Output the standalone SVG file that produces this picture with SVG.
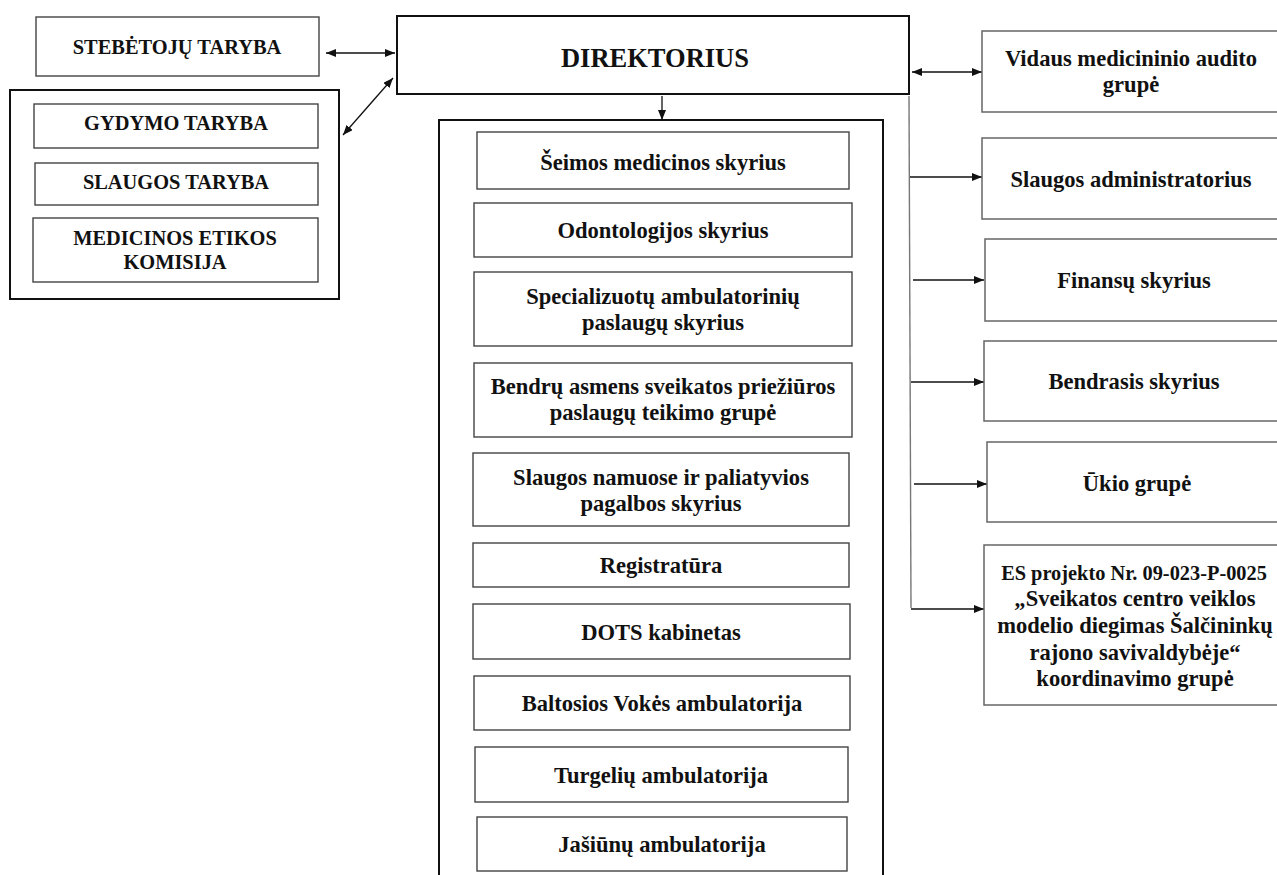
<svg xmlns="http://www.w3.org/2000/svg" width="1277" height="875" viewBox="0 0 1277 875">
<defs>
<style>
.t{font-family:"Liberation Serif","Times New Roman",serif;font-weight:bold;fill:#111;text-anchor:middle;font-size:23.5px}
.c{font-size:21.5px}
.d{font-size:26.5px}
.e{font-size:21px}
.in{fill:#fff;stroke:#444;stroke-width:1.4}
.rt{fill:#fff;stroke:#666;stroke-width:1.5}
.out{fill:none;stroke:#111;stroke-width:2}
.ln{fill:none;stroke:#111;stroke-width:1.3}
.gl{fill:none;stroke:#777;stroke-width:1.4}
</style>
<marker id="ah" viewBox="0 0 10 8" refX="10" refY="4" markerWidth="10" markerHeight="8" markerUnits="userSpaceOnUse" orient="auto-start-reverse">
<path d="M0,0 L10,4 L0,8 z" fill="#111"/>
</marker>
</defs>
<rect width="1277" height="875" fill="#fff"/>

<g id="connectors">
<line class="ln" x1="326" y1="53" x2="395" y2="53" marker-start="url(#ah)" marker-end="url(#ah)"/>
<line class="ln" x1="343" y1="135" x2="393" y2="78" marker-start="url(#ah)" marker-end="url(#ah)"/>
<line class="ln" x1="662" y1="96" x2="662" y2="120" marker-end="url(#ah)"/>
<line class="ln" x1="912" y1="72" x2="982" y2="72" marker-start="url(#ah)" marker-end="url(#ah)"/>
<line class="gl" x1="909" y1="96" x2="911" y2="608"/>
<line class="ln" x1="910" y1="177" x2="982" y2="177" marker-end="url(#ah)"/>
<line class="ln" x1="913" y1="280" x2="984" y2="280" marker-end="url(#ah)"/>
<line class="ln" x1="911" y1="382" x2="984" y2="382" marker-end="url(#ah)"/>
<line class="ln" x1="914" y1="484" x2="987" y2="484" marker-end="url(#ah)"/>
<line class="ln" x1="911" y1="609" x2="984" y2="609" marker-end="url(#ah)"/>
</g>

<g id="stebetoju-taryba">
<rect class="in" x="36" y="17" width="283" height="59"/>
<text class="t c" transform="translate(177,54) scale(0.95,1)">STEBĖTOJŲ TARYBA</text>
</g>

<g id="tarybos-grupe">
<rect class="out" x="10" y="90" width="329" height="209"/>
</g>
<g id="gydymo-taryba">
<rect class="in" x="34" y="104" width="284" height="44"/>
<text class="t c" transform="translate(176,130) scale(0.95,1)">GYDYMO TARYBA</text>
</g>
<g id="slaugos-taryba">
<rect class="in" x="35" y="163" width="283" height="42"/>
<text class="t c" transform="translate(176,189) scale(0.95,1)">SLAUGOS TARYBA</text>
</g>
<g id="etikos-komisija">
<rect class="in" x="33" y="218" width="285" height="64"/>
<text class="t c" transform="translate(175,245) scale(0.95,1)">MEDICINOS ETIKOS</text>
<text class="t c" transform="translate(175,269) scale(0.95,1)">KOMISIJA</text>
</g>

<g id="direktorius">
<rect class="out" x="397" y="16" width="512" height="78"/>
<text class="t d" x="655" y="67">DIREKTORIUS</text>
</g>

<g id="skyriai-grupe">
<rect class="out" x="439" y="120" width="444" height="770"/>
</g>
<g id="seimos">
<rect class="in" x="477" y="132" width="372" height="57"/>
<text class="t" transform="translate(663,170) scale(0.96,1)">Šeimos medicinos skyrius</text>
</g>
<g id="odontologijos">
<rect class="in" x="474" y="203" width="378" height="54"/>
<text class="t" transform="translate(663,238) scale(0.96,1)">Odontologijos skyrius</text>
</g>
<g id="specializuotu">
<rect class="in" x="474" y="272" width="378" height="74"/>
<text class="t" transform="translate(663,304) scale(0.96,1)">Specializuotų ambulatorinių</text>
<text class="t" transform="translate(663,330) scale(0.96,1)">paslaugų skyrius</text>
</g>
<g id="bendru">
<rect class="in" x="474" y="363" width="378" height="74"/>
<text class="t" transform="translate(663,394) scale(0.96,1)">Bendrų asmens sveikatos priežiūros</text>
<text class="t" transform="translate(663,420) scale(0.96,1)">paslaugų teikimo grupė</text>
</g>
<g id="slaugos-namuose">
<rect class="in" x="473" y="453" width="376" height="73"/>
<text class="t" transform="translate(661,485) scale(0.96,1)">Slaugos namuose ir paliatyvios</text>
<text class="t" transform="translate(661,511) scale(0.96,1)">pagalbos skyrius</text>
</g>
<g id="registratura">
<rect class="in" x="473" y="543" width="376" height="44"/>
<text class="t" transform="translate(661,573) scale(0.96,1)">Registratūra</text>
</g>
<g id="dots">
<rect class="in" x="473" y="604" width="377" height="55"/>
<text class="t" transform="translate(661,640) scale(0.96,1)">DOTS kabinetas</text>
</g>
<g id="baltosios-vokes">
<rect class="in" x="474" y="676" width="376" height="54"/>
<text class="t" transform="translate(662,711) scale(0.96,1)">Baltosios Vokės ambulatorija</text>
</g>
<g id="turgeliu">
<rect class="in" x="475" y="747" width="373" height="55"/>
<text class="t" transform="translate(661,783) scale(0.96,1)">Turgelių ambulatorija</text>
</g>
<g id="jasiunu">
<rect class="in" x="477" y="817" width="370" height="54"/>
<text class="t" transform="translate(662,852) scale(0.96,1)">Jašiūnų ambulatorija</text>
</g>

<g id="vidaus-auditas">
<rect class="rt" x="982" y="31" width="310" height="81"/>
<text class="t" transform="translate(1131,66) scale(0.96,1)">Vidaus medicininio audito</text>
<text class="t" transform="translate(1131,92) scale(0.96,1)">grupė</text>
</g>
<g id="slaugos-administratorius">
<rect class="rt" x="982" y="138" width="310" height="81"/>
<text class="t" transform="translate(1131,187) scale(0.96,1)">Slaugos administratorius</text>
</g>
<g id="finansu">
<rect class="rt" x="985" y="239" width="310" height="82"/>
<text class="t" transform="translate(1134,288) scale(0.96,1)">Finansų skyrius</text>
</g>
<g id="bendrasis">
<rect class="rt" x="984" y="341" width="310" height="80"/>
<text class="t" transform="translate(1134,389) scale(0.96,1)">Bendrasis skyrius</text>
</g>
<g id="ukio">
<rect class="rt" x="987" y="442" width="310" height="80"/>
<text class="t" transform="translate(1137,491) scale(0.96,1)">Ūkio grupė</text>
</g>
<g id="es-projektas">
<rect class="rt" x="984" y="545" width="310" height="160"/>
<text class="t e" transform="translate(1134,580) scale(0.97,1)">ES projekto Nr. 09-023-P-0025</text>
<text class="t" transform="translate(1135,606) scale(0.96,1)">„Sveikatos centro veiklos</text>
<text class="t" transform="translate(1135,633) scale(0.96,1)">modelio diegimas Šalčininkų</text>
<text class="t" transform="translate(1135,660) scale(0.96,1)">rajono savivaldybėje“</text>
<text class="t" transform="translate(1135,686) scale(0.96,1)">koordinavimo grupė</text>
</g>
</svg>
